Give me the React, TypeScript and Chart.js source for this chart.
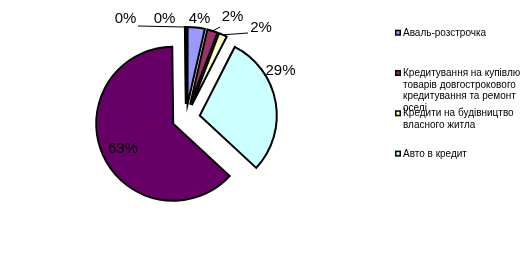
import React, { useEffect, useRef } from "react";
import { Chart, ArcElement, PieController } from "chart.js";

Chart.register(ArcElement, PieController);

// ---- data ----
const categories = [
  "Аваль-розстрочка",
  "Кредитування на купівлю товарів довгострокового кредитування та ремонт оселі",
  "Кредити на будівництво власного житла",
  "Авто в кредит",
  "",
  "",
  "",
];
const shares = [3.6, 2.2, 1.7, 29.4, 62.9, 0.1, 0.1];
const colors = ["#9999FF", "#993366", "#FFFFCC", "#CCFFFF", "#660066", "#FF8080", "#0066CC"];
const legendCount = 4; // only these entries fit in the legend box

// ---- label placement (relative to pie centre) ----
const labelOffsets: [number, number][] = [
  [13.5, -99.5],
  [46.5, -101],
  [75, -90.5],
  [94.5, -47],
  [-63, 31],
  [-60.5, -99.5],
  [-21.5, -99.5],
];
const leaderEnds: ([number, number] | null)[] = [null, [34, -91], [62, -85], null, null, [-48, -92], null];

const EXPLODE = 14;
const FONT = "'Liberation Sans', Arial, sans-serif";

const baseArcDraw = (ArcElement.prototype as any).draw;
(ArcElement.prototype as any).draw = function (ctx: CanvasRenderingContext2D, area: any) {
  const mid = (this.startAngle + this.endAngle) / 2;
  ctx.save();
  ctx.translate(Math.cos(mid) * EXPLODE, Math.sin(mid) * EXPLODE);
  baseArcDraw.call(this, ctx, area);
  ctx.restore();
};

function wrap(ctx: CanvasRenderingContext2D, text: string, maxW: number): string[] {
  const words = text.split(" ");
  const lines: string[] = [];
  let cur = "";
  for (const w of words) {
    const t = cur ? cur + " " + w : w;
    if (ctx.measureText(t).width > maxW && cur) {
      lines.push(cur);
      cur = w;
    } else cur = t;
  }
  if (cur) lines.push(cur);
  return lines;
}

const labelPlugin = {
  id: "pctLabels",
  afterDatasetsDraw(chart: any) {
    const ctx: CanvasRenderingContext2D = chart.ctx;
    const meta = chart.getDatasetMeta(0);
    const total = shares.reduce((a, b) => a + b, 0);
    ctx.save();
    ctx.strokeStyle = "#000";
    ctx.lineWidth = 1;
    meta.data.forEach((arc: any, i: number) => {
      const cx = arc.x;
      const cy = arc.y;
      const le = leaderEnds[i];
      if (le) {
        const mid = (arc.startAngle + arc.endAngle) / 2;
        const r = arc.outerRadius + EXPLODE;
        ctx.beginPath();
        ctx.moveTo(cx + Math.cos(mid) * r, cy + Math.sin(mid) * r);
        ctx.lineTo(cx + le[0], cy + le[1]);
        ctx.stroke();
      }
    });
    ctx.fillStyle = "#000";
    ctx.font = "15px " + FONT;
    ctx.textAlign = "center";
    ctx.textBaseline = "middle";
    meta.data.forEach((arc: any, i: number) => {
      const pct = Math.round((shares[i] / total) * 100) + "%";
      const [dx, dy] = labelOffsets[i];
      ctx.fillText(pct, arc.x + dx, arc.y + dy);
    });
    ctx.restore();
  },
  afterDraw(chart: any) {
    const ctx: CanvasRenderingContext2D = chart.ctx;
    ctx.save();
    ctx.font = "10px " + FONT;
    ctx.textAlign = "left";
    ctx.textBaseline = "alphabetic";
    const x0 = 395;
    const firstBase = 35.7;
    const step = 40.3;
    const lh = 11.7;
    for (let i = 0; i < legendCount; i++) {
      const base = firstBase + i * step;
      ctx.fillStyle = "#000";
      ctx.fillRect(x0, base - 6, 6, 6);
      ctx.fillStyle = colors[i];
      ctx.fillRect(x0 + 1.5, base - 4.5, 3, 3);
      ctx.fillStyle = "#000";
      const lines = wrap(ctx, categories[i], 120);
      lines.forEach((ln, k) => ctx.fillText(ln, x0 + 8, base + k * lh));
    }
    ctx.restore();
  },
};

export default function App() {
  const ref = useRef<HTMLCanvasElement>(null);
  useEffect(() => {
    if (!ref.current) return;
    const chart = new Chart(ref.current, {
      type: "pie",
      data: {
        labels: categories,
        datasets: [
          {
            data: shares,
            backgroundColor: colors,
            borderColor: "#000",
            borderWidth: 2,
            borderJoinStyle: "miter",
            radius: 77,
          } as any,
        ],
      },
      options: {
        responsive: false,
        animation: false,
        layout: { padding: { left: 0, right: 157, top: 0, bottom: 23 } },
        plugins: { legend: { display: false }, tooltip: { enabled: false } } as any,
      },
      plugins: [labelPlugin],
    });
    return () => chart.destroy();
  }, []);
  return (
    <div style={{ position: "absolute", left: 0, top: 0, width: 529, height: 259, background: "#fff" }}>
      <canvas ref={ref} width={529} height={259} style={{ display: "block" }} />
    </div>
  );
}
